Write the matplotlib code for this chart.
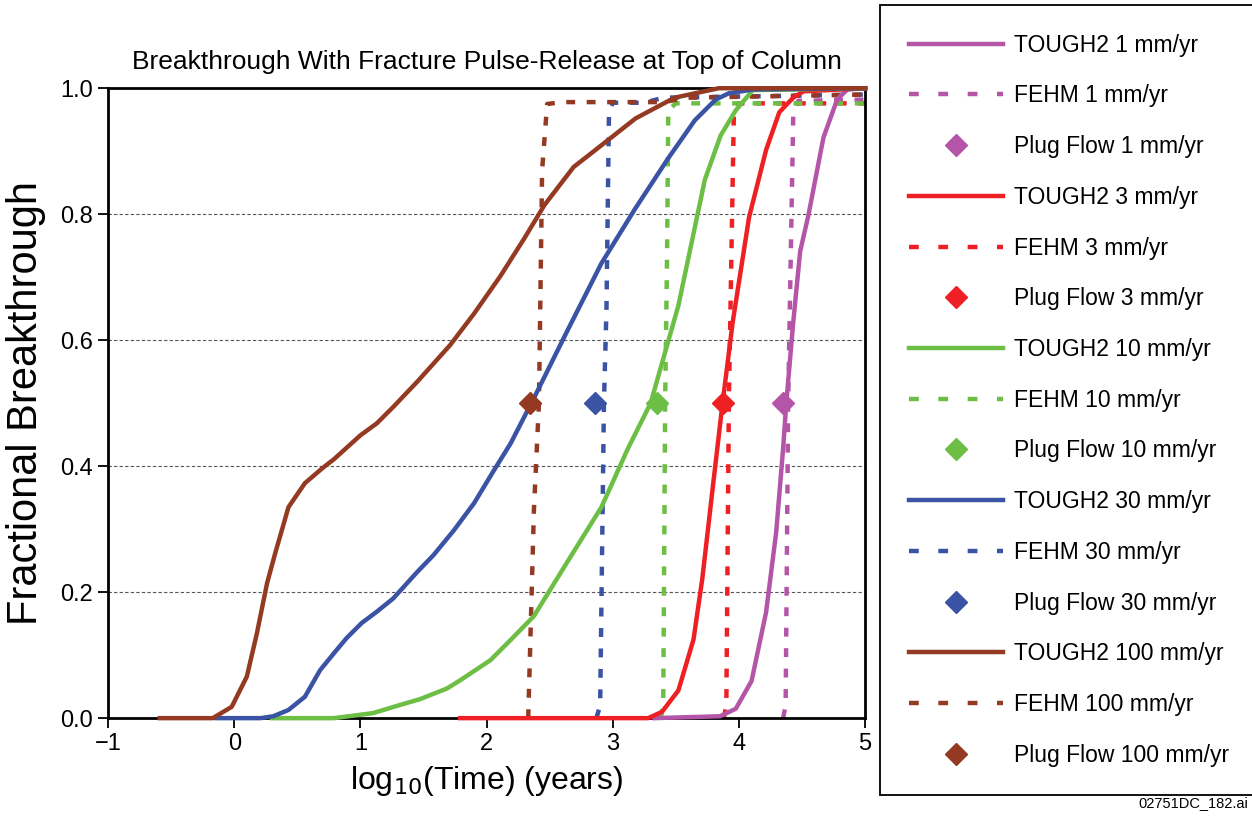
import matplotlib
matplotlib.use("Agg")
import matplotlib.pyplot as plt
from matplotlib.lines import Line2D

plt.rcParams['font.family'] = ['Liberation Sans', 'DejaVu Sans']

# log10(time, years) vs fractional breakthrough
t2_100_x = [-0.59, -0.17, -0.02, 0.10, 0.18, 0.26, 0.325, 0.43, 0.56, 0.70, 0.79, 1.00, 1.13,
            1.26, 1.45, 1.71, 1.90, 2.11, 2.30, 2.46, 2.69, 2.85, 3.18, 3.49, 3.84, 5.0]
t2_100_y = [0.0, 0.0, 0.018, 0.066, 0.135, 0.214, 0.262, 0.335, 0.373, 0.397, 0.411, 0.449, 0.468,
            0.494, 0.534, 0.592, 0.642, 0.702, 0.762, 0.815, 0.875, 0.900, 0.952, 0.985, 1.0, 1.0]

t2_30_x = [-0.14, 0.21, 0.31, 0.43, 0.56, 0.68, 0.79, 0.89, 1.01, 1.13, 1.26, 1.45, 1.58, 1.74,
           1.90, 2.06, 2.19, 2.375, 2.64, 2.91, 3.175, 3.44, 3.65, 3.815, 3.92, 4.11, 5.0]
t2_30_y = [0.0, 0.0, 0.003, 0.013, 0.034, 0.076, 0.103, 0.127, 0.151, 0.169, 0.19, 0.232, 0.259,
           0.298, 0.341, 0.394, 0.436, 0.508, 0.615, 0.722, 0.808, 0.889, 0.949, 0.982, 0.992, 0.998, 1.0]

t2_10_x = [0.30, 0.79, 1.10, 1.315, 1.47, 1.685, 1.79, 2.03, 2.19, 2.375, 2.64, 2.91, 3.12,
           3.30, 3.52, 3.73, 3.855, 3.975, 4.11, 5.0]
t2_10_y = [0.0, 0.0, 0.008, 0.021, 0.030, 0.047, 0.060, 0.092, 0.124, 0.162, 0.248, 0.335, 0.428,
           0.50, 0.655, 0.855, 0.925, 0.965, 0.997, 1.0]

t2_3_x = [1.79, 3.28, 3.39, 3.52, 3.64, 3.71, 3.79, 3.87, 3.95, 4.08, 4.215, 4.32, 4.43, 4.51, 5.0]
t2_3_y = [0.0, 0.0, 0.01, 0.044, 0.125, 0.222, 0.362, 0.50, 0.628, 0.795, 0.902, 0.962, 0.985, 0.995, 1.0]

t2_1_x = [3.33, 3.85, 3.975, 4.10, 4.215, 4.295, 4.35, 4.375, 4.43, 4.485, 4.55, 4.67, 4.78, 4.86, 5.0]
t2_1_y = [0.0, 0.003, 0.015, 0.059, 0.168, 0.295, 0.428, 0.50, 0.628, 0.741, 0.798, 0.922, 0.983, 0.998, 1.0]

fehm_100_x = [2.33, 2.375, 2.415, 2.44, 2.48, 2.60, 3.40, 3.60, 5.0]
fehm_100_y = [0.0, 0.33, 0.50, 0.87, 0.975, 0.978, 0.978, 0.985, 0.99]
fehm_30_x = [2.87, 2.90, 2.93, 2.95, 2.97, 3.00, 3.25, 3.40, 5.0]
fehm_30_y = [0.0, 0.02, 0.50, 0.65, 0.962, 0.977, 0.977, 0.985, 0.99]
fehm_10_x = [3.38, 3.40, 3.415, 3.43, 3.44, 3.50, 5.0]
fehm_10_y = [0.0, 0.02, 0.50, 0.73, 0.965, 0.976, 0.976]
fehm_3_x = [3.88, 3.90, 3.92, 3.96, 4.00, 5.0]
fehm_3_y = [0.0, 0.02, 0.50, 0.965, 0.976, 0.976]
fehm_1_x = [4.35, 4.37, 4.39, 4.42, 4.43, 4.47, 5.0]
fehm_1_y = [0.0, 0.02, 0.50, 0.84, 0.955, 0.98, 0.982]

plug_x = [4.35, 3.875, 3.35, 2.86, 2.345]
plug_y = [0.5, 0.5, 0.5, 0.5, 0.5]

rates = ['1', '3', '10', '30', '100']
colors = ['#B455A8', '#EE2024', '#6CBE45', '#3A53A4', '#943A23']
tough2 = [(t2_1_x, t2_1_y), (t2_3_x, t2_3_y), (t2_10_x, t2_10_y),
          (t2_30_x, t2_30_y), (t2_100_x, t2_100_y)]
fehm = [(fehm_1_x, fehm_1_y), (fehm_3_x, fehm_3_y), (fehm_10_x, fehm_10_y),
        (fehm_30_x, fehm_30_y), (fehm_100_x, fehm_100_y)]

fig = plt.figure(figsize=(12.52, 8.17), dpi=100)
ax = fig.add_axes([0.0863, 0.121, 0.6047, 0.771])

dash = (0, (2.0, 2.6))
handles = []
for i, r in enumerate(rates):
    c = colors[i]
    ax.plot(tough2[i][0], tough2[i][1], color=c, lw=3.2, zorder=3, clip_on=False,
            solid_joinstyle='round')
    ax.plot(fehm[i][0], fehm[i][1], color=c, lw=3.2, ls=dash, zorder=2, clip_on=False)
    handles.append(Line2D([], [], color=c, lw=3.2, label='TOUGH2 %s mm/yr' % r))
    handles.append(Line2D([], [], color=c, lw=3.2, ls=(0, (2.2, 4.4)), label='FEHM %s mm/yr' % r))
    handles.append(Line2D([], [], color=c, ls='none', marker='D', ms=11.5,
                          label='Plug Flow %s mm/yr' % r))

for i in range(len(rates)):
    ax.plot(plug_x[i], plug_y[i], ls='none', marker='D', ms=11.5, color=colors[i], zorder=4)

ax.set_xlim(-1, 5)
ax.set_ylim(0, 1)
ax.set_xticks(range(-1, 6))
ax.set_yticks([0.0, 0.2, 0.4, 0.6, 0.8, 1.0])
ax.set_yticklabels(['%.1f' % v for v in ax.get_yticks()])
ax.tick_params(direction='out', length=7, width=1.3, labelsize=17, pad=4)
for sp in ax.spines.values():
    sp.set_linewidth(2)
for g in [0.2, 0.4, 0.6, 0.8]:
    ax.axhline(g, color='#555555', lw=0.8, ls=(0, (3, 2)), zorder=1)

ax.set_xlabel(r'log$_{10}$(Time) (years)', fontsize=23, labelpad=6)
ax.set_ylabel('Fractional Breakthrough', fontsize=30, labelpad=10)
ax.set_title('Breakthrough With Fracture Pulse-Release at Top of Column', fontsize=19, pad=14)

leg = fig.legend(handles=handles, loc='upper left', bbox_to_anchor=(0.703, 0.9939),
                 fontsize=16.5, frameon=True, fancybox=False, framealpha=1,
                 edgecolor='black', handlelength=4.1, handletextpad=0.5,
                 labelspacing=1.21, borderpad=1.25, borderaxespad=0, numpoints=1)
leg.get_frame().set_linewidth(1.3)

fig.text(0.997, 0.008, '02751DC_182.ai', ha='right', va='bottom', fontsize=10.5)

fig.savefig('out.png', dpi=100)
